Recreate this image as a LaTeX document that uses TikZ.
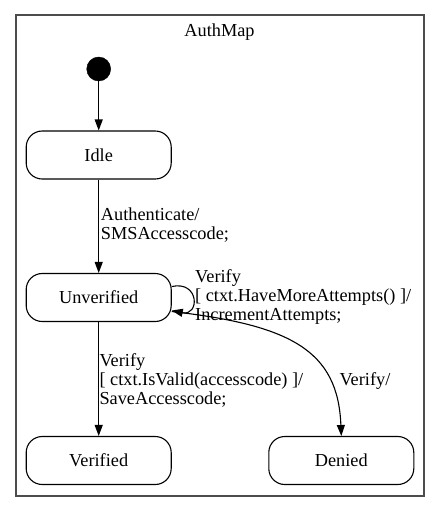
\documentclass[tikz,border=0pt]{standalone}
\usepackage{fontspec}
\setmainfont{Liberation Serif}
\usetikzlibrary{arrows.meta}
\tikzset{
  x=1pt, y=-1pt,
  lbl/.style={font=\fontsize{18.3}{19}\selectfont, inner sep=0pt},
  statebox/.style={draw=black, line width=1.1pt, rounded corners=16pt, minimum width=145pt, minimum height=48pt, inner sep=0pt, font=\fontsize{18.3}{19}\selectfont},
  edge/.style={draw=black, line width=1.1pt, -{Triangle[length=11pt,width=8pt]}},
  elabel/.style={lbl, anchor=base west},
}
\newcommand{\mylines}[1]{\begin{tabular}[t]{@{}l@{}}#1\end{tabular}}
\begin{document}
\begin{tikzpicture}
\useasboundingbox (0,0) rectangle (440,512);
\node[draw=black!70, line width=1.3pt, minimum width=408pt, minimum height=481pt, inner sep=0pt] (cluster) at (220,255.5) {};
\node[lbl, anchor=base] (title) at (219.5,36.7) {AuthMap};
\node[circle, fill=black, draw=black, minimum size=24pt, inner sep=0pt] (init) at (98.7,69) {};
\node[statebox] (idle) at (98.7,155) {Idle};
\node[statebox] (unv) at (98.7,297.5) {Unverified};
\node[statebox] (ver) at (98.7,460.5) {Verified};
\node[statebox] (den) at (341.3,460.5) {Denied};
\draw[edge] (init) -- (idle);
\draw[edge] (idle) -- (unv);
\node[elabel] (l1) at (100.7,220.7) {\mylines{Authenticate/\\SMSAccesscode;}};
\draw[edge] ([yshift=11pt]unv.east) .. controls +(28,-6) and +(28,6) .. ([yshift=-13pt]unv.east);
\node[elabel] (l2) at (195,282.5) {\mylines{Verify\\{[} ctxt.HaveMoreAttempts() ]/\\IncrementAttempts;}};
\draw[edge] (unv) -- (ver);
\node[elabel] (l3) at (99.3,366.7) {\mylines{Verify\\{[} ctxt.IsValid(accesscode) ]/\\SaveAccesscode;}};
\draw[edge] ([yshift=-14pt]unv.east) .. controls (290,325) and (338,350) .. (den.north);
\node[elabel] (l4) at (339.3,385) {Verify/};
\end{tikzpicture}
\end{document}
